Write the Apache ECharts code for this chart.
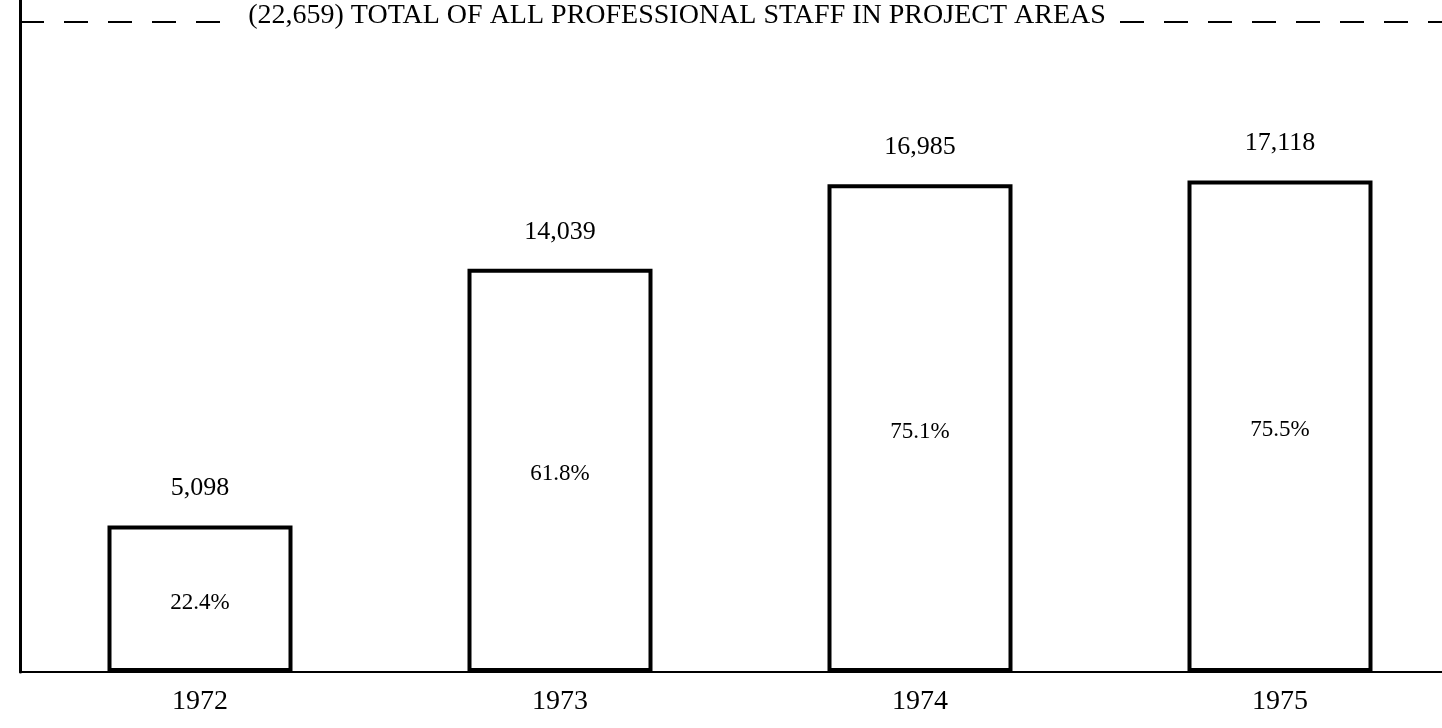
<!DOCTYPE html>
<html>
<head>
<meta charset="utf-8">
<script src="https://cdn.jsdelivr.net/npm/echarts@6/dist/echarts.min.js"></script>
<style>
  html, body { margin: 0; padding: 0; background: #fff; }
  #chart { width: 1442px; height: 728px; }
</style>
</head>
<body>
<div id="chart"></div>
<script>
// data
const years = ['1972', '1973', '1974', '1975'];
const staff = [5098, 14039, 16985, 17118];
const shares = ['22.4%', '61.8%', '75.1%', '75.5%'];
const totalStaff = 22659;

const serif = '"Liberation Serif", "DejaVu Serif", serif';

const chart = echarts.init(document.getElementById('chart'));
chart.setOption({
    animation: false,
    backgroundColor: '#fff',
    grid: { left: 20, right: -18, top: 0, bottom: 56, outerBoundsMode: 'none', containLabel: false },
    xAxis: {
        type: 'category',
        data: years,
        axisLine: { lineStyle: { color: '#000', width: 2 } },
        axisTick: { show: false },
        axisLabel: { color: '#000', fontFamily: serif, fontSize: 28, margin: 16 }
    },
    yAxis: {
        type: 'value',
        min: 0,
        max: 23400,
        axisLine: { show: true, lineStyle: { color: '#000', width: 3 } },
        axisTick: { show: false },
        axisLabel: { show: false },
        splitLine: { show: false }
    },
    series: [
        {
            // the bars with the staff count above
            type: 'bar',
            data: staff,
            barWidth: 185,
            itemStyle: { color: '#fff', borderColor: '#000', borderWidth: 4 },
            label: {
                show: true,
                position: 'top',
                distance: 24,
                color: '#000',
                fontFamily: serif,
                fontSize: 26,
                formatter: p => p.value.toLocaleString('en-US')
            }
        },
        {
            // invisible twin, only carries the share label and the total line
            type: 'bar',
            data: staff,
            barWidth: 185,
            barGap: '-100%',
            itemStyle: { color: 'rgba(0,0,0,0)' },
            label: {
                show: true,
                position: 'inside',
                offset: [0, 4],
                color: '#000',
                fontFamily: serif,
                fontSize: 23,
                formatter: p => shares[p.dataIndex]
            },
            markLine: {
                silent: true,
                symbol: 'none',
                lineStyle: { color: '#000', width: 2, type: [24, 20] },
                label: {
                    position: 'insideMiddle',
                    distance: 0,
                    color: '#000',
                    fontFamily: serif,
                    fontSize: 28,
                    backgroundColor: '#fff',
                    padding: [0, 14],
                    offset: [-63, -6],
                    formatter: '(22,659) TOTAL OF ALL PROFESSIONAL STAFF IN PROJECT AREAS'
                },
                data: [{ yAxis: totalStaff }]
            }
        }
    ]
});
</script>
</body>
</html>
